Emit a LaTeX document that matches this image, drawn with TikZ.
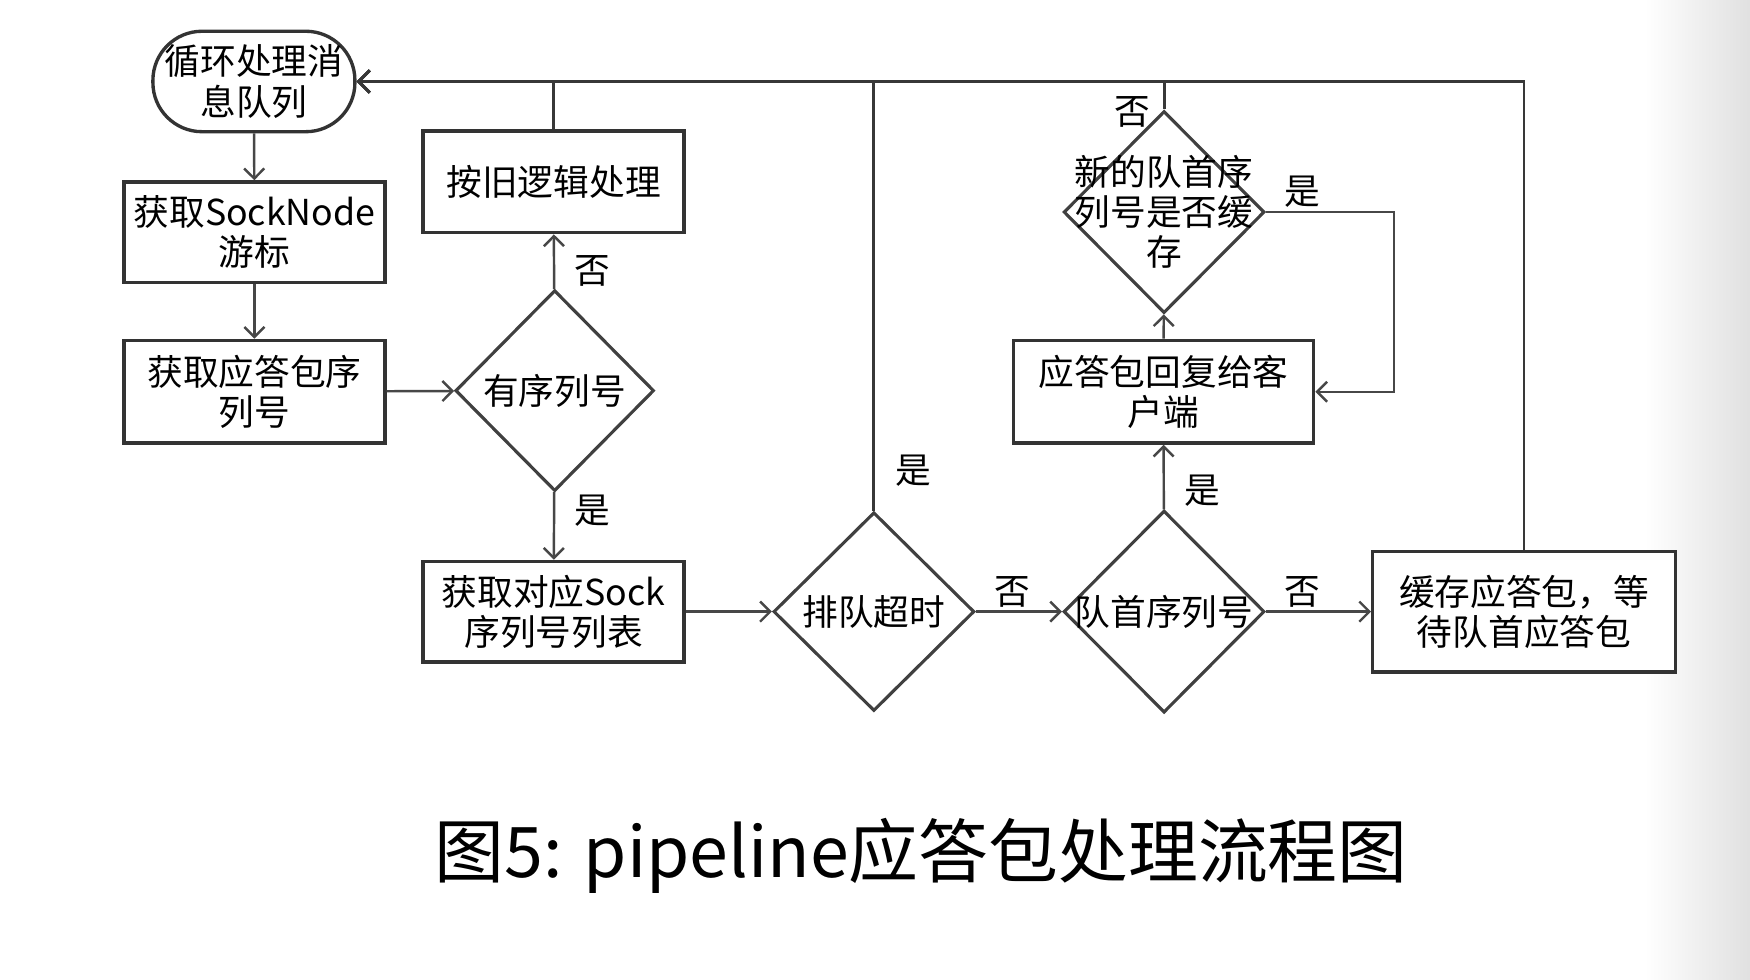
\documentclass[tikz,border=0pt]{standalone}
\usepackage{fontspec}
\setmainfont{Noto Sans CJK SC}
\usetikzlibrary{shapes.geometric,arrows.meta}
\begin{document}
\begin{tikzpicture}[x=0.5pt,y=-0.5pt,
  txtfont/.style={font=\fontsize{16}{18}\selectfont},
  boxnode/.style={draw=black!80,line width=1.5pt,fill=white,inner sep=0pt,align=center,txtfont},
  startnode/.style={boxnode,rounded corners=22pt},
  dia/.style={draw=black!75,line width=1.4pt,diamond,aspect=1,inner sep=0pt,fill=white},
  diatext/.style={inner sep=0pt,align=center,txtfont},
  lbl/.style={inner sep=0pt,txtfont},
  conn/.style={draw=black!72,line width=1.1pt,-{Straight Barb[length=4.5pt,width=9pt]}},
  backconn/.style={draw=black!78,line width=1.3pt,-{Straight Barb[length=5pt,width=10pt]}}
]
% canvas
\fill[white] (0,0) rectangle (1568,878);
\useasboundingbox (0,0) rectangle (1568,878);
\shade[left color=white,right color=black!12] (1474,0) rectangle (1568,878);

% nodes
\node[startnode,minimum width=90.5pt,minimum height=45pt] (s) at (227.5,73) {循环处理消\\息队列};
\node[boxnode,minimum width=117pt,minimum height=45pt] (b1) at (228,208) {获取SockNode\\游标};
\node[boxnode,minimum width=117pt,minimum height=46pt] (b2) at (228,351) {获取应答包序\\列号};
\node[boxnode,minimum width=117pt,minimum height=45.5pt] (b3) at (496,163) {按旧逻辑处理};
\node[dia,minimum width=89pt,minimum height=90pt] (d1) at (497,350) {};
\node[diatext] (t1) at (d1) {有序列号};
\node[boxnode,minimum width=117pt,minimum height=45pt] (b4) at (496,548) {获取对应Sock\\序列号列表};
\node[dia,minimum width=90pt,minimum height=89pt] (d2) at (783,548) {};
\node[diatext] (t2) at (d2) {排队超时};
\node[dia,minimum width=90pt,minimum height=90.5pt] (d3) at (1043,548) {};
\node[diatext] (t3) at (d3) {队首序列号};
\node[boxnode,minimum width=135.5pt,minimum height=54pt] (b5) at (1365.5,548) {缓存应答包，等\\待队首应答包};
\node[boxnode,minimum width=134.5pt,minimum height=46pt] (b6) at (1042.5,351) {应答包回复给客\\户端};
\node[dia,minimum width=90pt,minimum height=90.5pt] (d4) at (1043,190) {};
\node[diatext] (t4) at (d4) {新的队首序\\列号是否缓\\存};

% connectors
\draw[conn] (s) -- (b1);
\draw[conn] (b1) -- (b2);
\draw[conn] (b2) -- (d1);
\draw[conn] (d1) -- (b3);
\draw[conn] (d1) -- (b4);
\draw[conn] (b4) -- (d2);
\draw[conn] (d2) -- (d3);
\draw[conn] (d3) -- (b6);
\draw[conn] (b6) -- (d4);
\draw[conn] (d3) -- (b5);
\coordinate (c1) at (1249,190);
\draw[conn] (d4.east) -- (c1) |- (b6.east);
\draw[backconn] (b5.north) |- (s.east);
\draw[backconn] (d4.north) |- (s.east);
\draw[backconn] (d2.north) |- (s.east);
\draw[backconn] (b3.north) |- (s.east);

% labels
\node[lbl] (l1) at (531,243) {否};
\node[lbl] (l2) at (531,458) {是};
\node[lbl] (l3) at (818,422) {是};
\node[lbl] (l4) at (907,530) {否};
\node[lbl] (l5) at (1077,440) {是};
\node[lbl] (l6) at (1015,100) {否};
\node[lbl] (l7) at (1167,172) {是};
\node[lbl] (l8) at (1167,530) {否};

% title
\node[inner sep=0pt,font=\fontsize{31.3}{35}\selectfont] (title) at (825.5,767) {图5: pipeline应答包处理流程图};
\end{tikzpicture}
\end{document}
